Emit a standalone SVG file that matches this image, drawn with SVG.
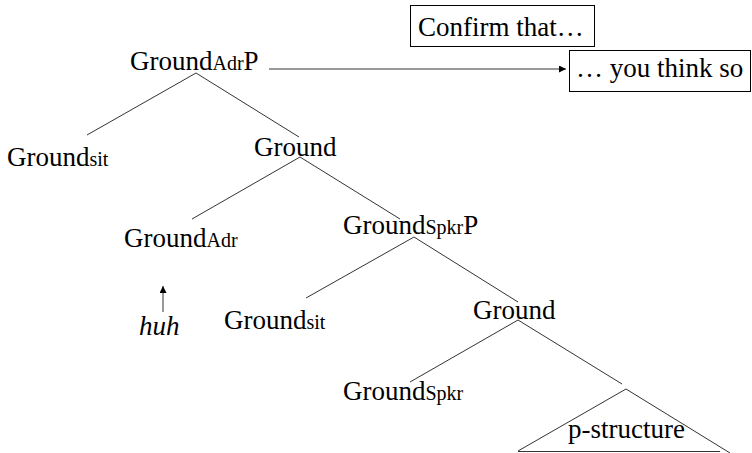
<svg xmlns="http://www.w3.org/2000/svg" width="752" height="453" viewBox="0 0 752 453">
<style>
text{font-family:"Liberation Serif","Times New Roman",serif;font-size:27px;fill:#000}
.sub{font-size:20px}
.it{font-style:italic}
.ln{stroke:#333;stroke-width:1;fill:none}
.box{fill:#fff;stroke:#000;stroke-width:1}
</style>
<defs>
<marker id="ah" viewBox="0 0 10 10" refX="10" refY="5" markerWidth="7" markerHeight="7" markerUnits="userSpaceOnUse" orient="auto">
<path d="M0,0 L10,5 L0,10 z" fill="#000"/>
</marker>
</defs>
<rect width="752" height="453" fill="#fff"/>
<g id="connectors">
<line class="ln" x1="196" y1="73" x2="87" y2="135"/>
<line class="ln" x1="196" y1="73" x2="299" y2="137"/>
<line class="ln" x1="300" y1="157" x2="192" y2="219"/>
<line class="ln" x1="300" y1="157" x2="400" y2="219"/>
<line class="ln" x1="414" y1="237" x2="306" y2="298"/>
<line class="ln" x1="414" y1="237" x2="518" y2="302"/>
<line class="ln" x1="518" y1="320" x2="410" y2="382"/>
<line class="ln" x1="518" y1="320" x2="622" y2="384"/>
<line class="ln" x1="269" y1="69" x2="566" y2="69" stroke="#000" marker-end="url(#ah)"/>
<line class="ln" x1="163" y1="312" x2="163" y2="286" stroke="#000" marker-end="url(#ah)"/>
</g>
<g id="n-groundadrp"><text x="130" y="70">Ground<tspan class="sub">Adr</tspan>P</text></g>
<g id="n-confirm"><rect class="box" x="410.5" y="5.5" width="184" height="41"/><text x="418" y="36">Confirm that…</text></g>
<g id="n-youthink"><rect class="box" x="569.5" y="50.5" width="181" height="41"/><text x="576" y="77">… you think so</text></g>
<g id="n-groundsit1"><text x="7" y="166">Ground<tspan class="sub">sit</tspan></text></g>
<g id="n-ground1"><text x="254" y="156">Ground</text></g>
<g id="n-groundadr"><text x="124" y="247">Ground<tspan class="sub">Adr</tspan></text></g>
<g id="n-huh"><text class="it" x="139" y="335">huh</text></g>
<g id="n-groundspkrp"><text x="343" y="234">Ground<tspan class="sub">Spkr</tspan>P</text></g>
<g id="n-groundsit2"><text x="224" y="329">Ground<tspan class="sub">sit</tspan></text></g>
<g id="n-ground2"><text x="473" y="319">Ground</text></g>
<g id="n-groundspkr"><text x="343" y="400">Ground<tspan class="sub">Spkr</tspan></text></g>
<g id="n-pstructure">
<path class="ln" d="M518,451 L626,389 L730,453"/>
<line class="ln" x1="518" y1="451.5" x2="720" y2="451.5" stroke="#000"/>
<text x="568" y="438">p-structure</text>
</g>
</svg>
